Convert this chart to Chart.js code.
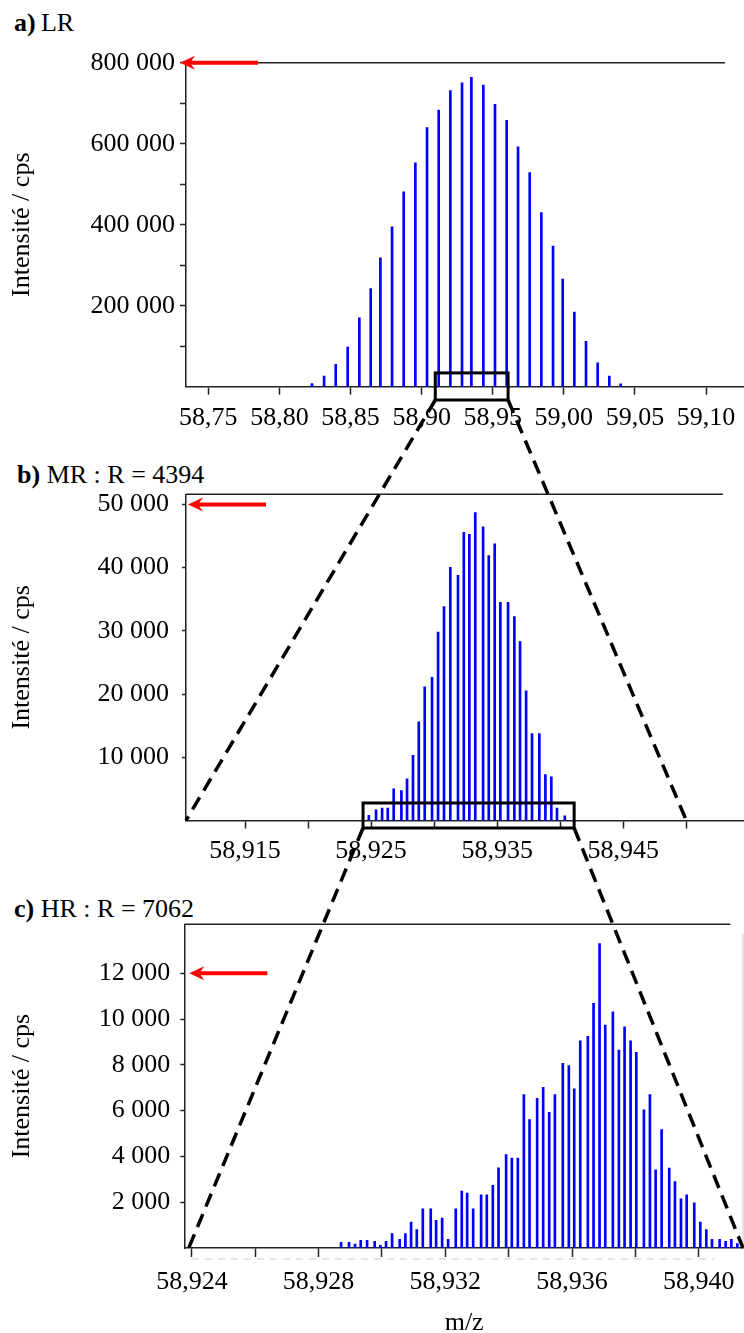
<!DOCTYPE html>
<html>
<head>
<meta charset="utf-8">
<script src="https://cdn.jsdelivr.net/npm/chart.js@4.4.0/dist/chart.umd.min.js"></script>
<style>
  html, body { margin: 0; padding: 0; background: #fff; }
  body { width: 744px; height: 1333px; position: relative; overflow: hidden;
         font-family: 'Liberation Serif', 'Times New Roman', serif; }
  canvas { position: absolute; left: 0; }
  .title { position: absolute; font-size: 26px; line-height: 26px; color: #000; white-space: nowrap; }
  #overlay { top: 0; pointer-events: none; }
</style>
</head>
<body>
<div class="title" style="left:14px;top:10px"><b>a)</b>&thinsp;LR</div>
<div class="title" style="left:17px;top:462px"><b>b)</b> MR : R = 4394</div>
<div class="title" style="left:14px;top:896px"><b>c)</b> HR : R = 7062</div>
<canvas id="chartA" width="744" height="440" style="top:0"></canvas>
<canvas id="chartB" width="744" height="440" style="top:440px"></canvas>
<canvas id="chartC" width="744" height="468" style="top:880px"></canvas>
<canvas id="overlay" width="744" height="1333"></canvas>
<script>
// a) LR
const mzA = [58.8229, 58.8314, 58.8396, 58.8480, 58.8562, 58.8642, 58.8710, 58.8792, 58.8874, 58.8956,
  58.9038, 58.9120, 58.9202, 58.9284, 58.9350, 58.9434, 58.9516, 58.9598, 58.9678, 58.9760,
  58.9842, 58.9924, 58.9992, 59.0074, 59.0156, 59.0238, 59.0320, 59.0400];
const intA = [8000, 26000, 55000, 98000, 170000, 242000, 318000, 395000, 481000, 553000,
  640000, 683000, 731000, 750000, 764000, 745000, 697000, 658000, 592000, 529000,
  430000, 347000, 266000, 184000, 112000, 59000, 26000, 7000];
const xTicksA = [58.75, 58.80, 58.85, 58.90, 58.95, 59.00, 59.05, 59.10];
const xLabelsA = ['58,75', '58,80', '58,85', '58,90', '58,95', '59,00', '59,05', '59,10'];
const yTicksA = [100000, 200000, 300000, 400000, 500000, 600000, 700000, 800000];
const yLabelsA = ['', '200 000', '', '400 000', '', '600 000', '', '800 000'];
const xRangeA = [58.7343, 59.1267];
const yMaxA = 800000;

// b) MR
const mzB = [58.92482, 58.92539, 58.92587, 58.92632, 58.92679, 58.92740, 58.92785, 58.92832,
  58.92878, 58.92925, 58.92983, 58.93031, 58.93078, 58.93128, 58.93189, 58.93235,
  58.93279, 58.93326, 58.93388, 58.93433, 58.93480, 58.93525, 58.93586, 58.93636,
  58.93681, 58.93729, 58.93776, 58.93834, 58.93882, 58.93929, 58.93974, 58.94036];
const intB = [800, 1700, 1950, 1950, 5000, 4750, 6600, 10300,
  15600, 21150, 22650, 29800, 33850, 40050, 38800, 45600,
  45250, 48700, 46450, 41900, 43750, 34500, 34500, 32250,
  28300, 20500, 13750, 13750, 7250, 6900, 1950, 750];
const xTicksB = [58.915, 58.920, 58.925, 58.930, 58.935, 58.940, 58.945, 58.950];
const xLabelsB = ['58,915', '', '58,925', '', '58,935', '', '58,945', ''];
const yTicksB = [10000, 20000, 30000, 40000, 50000];
const yLabelsB = ['10 000', '20 000', '30 000', '40 000', '50 000'];
const xRangeB = [58.91032, 58.95457];
const yMaxB = 51600;

// c) HR
const mzC = [58.92871, 58.92896, 58.92915, 58.92933, 58.92953, 58.92977, 58.92995, 58.93013,
  58.93032, 58.93056, 58.93074, 58.93092, 58.93110, 58.93129, 58.93154, 58.93171,
  58.93190, 58.93209, 58.93233, 58.93252, 58.93269, 58.93288, 58.93313, 58.93331,
  58.93350, 58.93368, 58.93392, 58.93410, 58.93429, 58.93448, 58.93466, 58.93490,
  58.93509, 58.93528, 58.93546, 58.93571, 58.93590, 58.93607, 58.93626, 58.93650,
  58.93668, 58.93687, 58.93705, 58.93729, 58.93748, 58.93766, 58.93785, 58.93803,
  58.93827, 58.93846, 58.93864, 58.93883, 58.93907, 58.93925, 58.93944, 58.93962,
  58.93986, 58.94005, 58.94024, 58.94042, 58.94066, 58.94085, 58.94103, 58.94122];
const intC = [250, 250, 175, 335, 335, 290, 115, 290,
  625, 380, 625, 1135, 800, 1715, 1715, 1205,
  1310, 380, 1715, 2485, 2400, 1715, 2325, 2325,
  2735, 3500, 4085, 3925, 3925, 6700, 5610, 6540,
  7020, 5930, 6700, 8070, 7965, 6950, 9055, 9245,
  10685, 13300, 9740, 10320, 8650, 9665, 9055, 8550,
  6035, 6700, 3415, 5175, 3490, 2905, 2150, 2325,
  1975, 1135, 800, 380, 380, 290, 380, 190];
const xTicksC = [58.924, 58.926, 58.928, 58.930, 58.932, 58.934, 58.936, 58.938, 58.940];
const xLabelsC = ['58,924', '', '58,928', '', '58,932', '', '58,936', '', '58,940'];
const yTicksC = [2000, 4000, 6000, 8000, 10000, 12000];
const yLabelsC = ['2 000', '4 000', '6 000', '8 000', '10 000', '12 000'];
const xRangeC = [58.92376, 58.94143];
const yMaxC = 14140;

// zoom windows drawn as boxes, and where their dashed links land below
const zoomA = [58.9096, 58.9608];
const zoomATop = 34000;
const zoomB = [58.92436, 58.9411];
const zoomBTop = 2770;
const linkB = [58.91032, 58.950];
const linkC = [58.9239, 58.9414];

const FONT = "'Liberation Serif', 'Times New Roman', serif";
const INK = '#222';

const framePlugin = {
  id: 'frame',
  afterDraw(chart, args, opts) {
    const { ctx, chartArea: a, scales: { x, y } } = chart;
    ctx.save();
    ctx.strokeStyle = INK;
    ctx.lineWidth = 1.5;
    ctx.beginPath();
    ctx.moveTo(a.left, a.top);
    ctx.lineTo(x.getPixelForValue(opts.topEnd), a.top);
    ctx.stroke();

    if (opts.ghost) {
      // faint remains of an older axis under panel c
      ctx.strokeStyle = '#c8c8c8';
      ctx.lineWidth = 1;
      ctx.setLineDash([7, 6]);
      ctx.beginPath();
      ctx.moveTo(x.getPixelForValue(58.924), a.bottom + 11);
      ctx.lineTo(x.getPixelForValue(58.9405), a.bottom + 11);
      ctx.stroke();
      ctx.setLineDash([]);
      ctx.beginPath();
      ctx.moveTo(a.right - 1, a.top + 9);
      ctx.lineTo(a.right - 1, a.bottom);
      ctx.stroke();
    }

    // red arrow pointing at the maximum label
    const ay = y.getPixelForValue(opts.arrowAt);
    const tip = a.left + opts.arrowTip;
    ctx.strokeStyle = '#ff0000';
    ctx.fillStyle = '#ff0000';
    ctx.lineWidth = 4;
    ctx.beginPath();
    ctx.moveTo(tip + 10, ay);
    ctx.lineTo(tip + 78, ay);
    ctx.stroke();
    ctx.beginPath();
    ctx.moveTo(tip, ay);
    ctx.lineTo(tip + 15, ay - 7);
    ctx.lineTo(tip + 10, ay);
    ctx.lineTo(tip + 15, ay + 7);
    ctx.closePath();
    ctx.fill();
    ctx.restore();
  }
};

function makeChart(id, mz, values, p) {
  return new Chart(document.getElementById(id), {
    type: 'bar',
    data: {
      datasets: [{
        data: mz.map((m, i) => ({ x: m, y: values[i] })),
        backgroundColor: '#0000ff',
        borderWidth: 0,
        barThickness: 2,
        grouped: false
      }]
    },
    plugins: [framePlugin],
    options: {
      responsive: false,
      animation: false,
      events: [],
      layout: { padding: { top: p.padTop, right: 0, bottom: 0, left: 0 } },
      plugins: {
        legend: { display: false },
        tooltip: { enabled: false },
        frame: { topEnd: p.topEnd, arrowAt: p.arrowAt, arrowTip: p.arrowTip, ghost: p.ghost }
      },
      scales: {
        x: {
          type: 'linear',
          min: p.xRange[0],
          max: p.xRange[1],
          offset: false,
          afterFit: s => { s.height = p.xHeight; },
          afterBuildTicks: s => { s.ticks = p.xTicks.map(v => ({ value: v })); },
          grid: { offset: false, drawOnChartArea: false, tickLength: p.xTickLen, tickWidth: 1.5, tickColor: INK },
          border: { color: INK, width: 1.5 },
          ticks: {
            autoSkip: false, maxRotation: 0, minRotation: 0,
            padding: p.xPad, color: '#000',
            font: { family: FONT, size: 26 },
            callback: (v, i) => p.xLabels[i]
          },
          title: p.xTitle ? {
            display: true, text: 'm/z', color: '#000',
            font: { family: FONT, size: 26 }, padding: { top: 0, bottom: p.xTitlePad }
          } : { display: false }
        },
        y: {
          min: 0,
          max: p.yMax,
          afterFit: s => { s.width = p.yWidth; },
          afterBuildTicks: s => { s.ticks = p.yTicks.map(v => ({ value: v })); },
          grid: { drawOnChartArea: false, tickLength: p.yTickLen, tickWidth: 1.5, tickColor: INK },
          border: { color: INK, width: 1.5 },
          ticks: {
            padding: p.yPad, color: '#000',
            font: { family: FONT, size: 26 },
            callback: (v, i) => p.yLabels[i]
          },
          title: {
            display: true, text: 'Intensité / cps', color: '#000',
            font: { family: FONT, size: 26 }, padding: { top: 7, bottom: 0 }
          }
        }
      }
    }
  });
}

const chartA = makeChart('chartA', mzA, intA, {
  xRange: xRangeA, yMax: yMaxA, xTicks: xTicksA, xLabels: xLabelsA, yTicks: yTicksA, yLabels: yLabelsA,
  padTop: 62.7, xHeight: 53.3, yWidth: 186, xTickLen: 8, yTickLen: 6, xPad: 7.6, yPad: 5,
  topEnd: 59.1134, arrowAt: 800000, arrowTip: -6
});
const chartB = makeChart('chartB', mzB, intB, {
  xRange: xRangeB, yMax: yMaxB, xTicks: xTicksB, xLabels: xLabelsB, yTicks: yTicksB, yLabels: yLabelsB,
  padTop: 54.3, xHeight: 59.5, yWidth: 186, xTickLen: 8, yTickLen: 4, xPad: 7.2, yPad: 13,
  topEnd: 58.9529, arrowAt: 50000, arrowTip: 2
});
const chartC = makeChart('chartC', mzC, intC, {
  xRange: xRangeC, yMax: yMaxC, xTicks: xTicksC, xLabels: xLabelsC, yTicks: yTicksC, yLabels: yLabelsC,
  padTop: 44.3, xHeight: 100, yWidth: 184.3, xTickLen: 9, yTickLen: 4, xPad: 9.3, yPad: 10,
  topEnd: 58.9410, arrowAt: 12000, arrowTip: 5, ghost: true, xTitle: true, xTitlePad: 9.4
});

// zoom boxes and dashed links, drawn across the three charts
function pagePoint(chart, px, py) {
  const r = chart.canvas.getBoundingClientRect();
  return [r.left + px, r.top + py];
}

function zoomBox(chart, range, topValue, below) {
  const { x, y } = chart.scales;
  const x1 = x.getPixelForValue(range[0]);
  const x2 = x.getPixelForValue(range[1]);
  const yt = y.getPixelForValue(topValue);
  const yb = chart.chartArea.bottom + below;
  return { tl: pagePoint(chart, x1, yt), br: pagePoint(chart, x2, yb), bl: pagePoint(chart, x1, yb) };
}

function axisPoint(chart, value) {
  return pagePoint(chart, chart.scales.x.getPixelForValue(value), chart.scales.y.getPixelForValue(0));
}

const ov = document.getElementById('overlay').getContext('2d');
function drawZoom(from, range, topValue, below, to, link) {
  const b = zoomBox(from, range, topValue, below);
  ov.strokeStyle = '#000';
  ov.lineWidth = 3;
  ov.setLineDash([]);
  ov.strokeRect(b.tl[0], b.tl[1], b.br[0] - b.tl[0], b.br[1] - b.tl[1]);
  const left = axisPoint(to, link[0]);
  const right = axisPoint(to, link[1]);
  ov.lineWidth = 3.5;
  ov.setLineDash([14, 8]);
  ov.beginPath();
  ov.moveTo(b.bl[0], b.bl[1]);
  ov.lineTo(left[0], left[1]);
  ov.moveTo(b.br[0], b.br[1]);
  ov.lineTo(right[0], right[1]);
  ov.stroke();
}
drawZoom(chartA, zoomA, zoomATop, 13.3, chartB, linkB);
drawZoom(chartB, zoomB, zoomBTop, 7.5, chartC, linkC);
</script>
</body>
</html>
